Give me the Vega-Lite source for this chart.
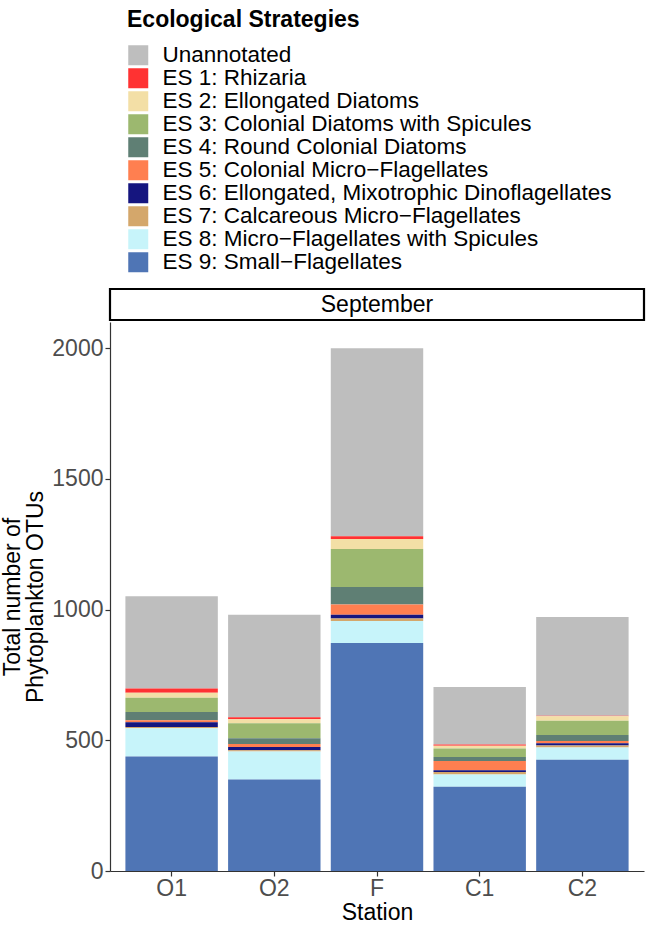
{
  "$schema": "https://vega.github.io/schema/vega-lite/v6.json",
  "padding": {"left": 1, "top": 9, "right": 0, "bottom": 2},
  "background": "white",
  "spacing": 0,
  "data": {"values": [
    {"station": "O1", "strategy": "Unannotated", "k": 0, "count": 353},
    {"station": "O1", "strategy": "ES 1: Rhizaria", "k": 1, "count": 16},
    {"station": "O1", "strategy": "ES 2: Ellongated Diatoms", "k": 2, "count": 19},
    {"station": "O1", "strategy": "ES 3: Colonial Diatoms with Spicules", "k": 3, "count": 55},
    {"station": "O1", "strategy": "ES 4: Round Colonial Diatoms", "k": 4, "count": 31},
    {"station": "O1", "strategy": "ES 5: Colonial Micro−Flagellates", "k": 5, "count": 8},
    {"station": "O1", "strategy": "ES 6: Ellongated, Mixotrophic Dinoflagellates", "k": 6, "count": 18},
    {"station": "O1", "strategy": "ES 7: Calcareous Micro−Flagellates", "k": 7, "count": 5},
    {"station": "O1", "strategy": "ES 8: Micro−Flagellates with Spicules", "k": 8, "count": 108},
    {"station": "O1", "strategy": "ES 9: Small−Flagellates", "k": 9, "count": 438},
    {"station": "O2", "strategy": "Unannotated", "k": 0, "count": 392},
    {"station": "O2", "strategy": "ES 1: Rhizaria", "k": 1, "count": 8},
    {"station": "O2", "strategy": "ES 2: Ellongated Diatoms", "k": 2, "count": 15},
    {"station": "O2", "strategy": "ES 3: Colonial Diatoms with Spicules", "k": 3, "count": 57},
    {"station": "O2", "strategy": "ES 4: Round Colonial Diatoms", "k": 4, "count": 22},
    {"station": "O2", "strategy": "ES 5: Colonial Micro−Flagellates", "k": 5, "count": 12},
    {"station": "O2", "strategy": "ES 6: Ellongated, Mixotrophic Dinoflagellates", "k": 6, "count": 12},
    {"station": "O2", "strategy": "ES 7: Calcareous Micro−Flagellates", "k": 7, "count": 5},
    {"station": "O2", "strategy": "ES 8: Micro−Flagellates with Spicules", "k": 8, "count": 107},
    {"station": "O2", "strategy": "ES 9: Small−Flagellates", "k": 9, "count": 350},
    {"station": "F", "strategy": "Unannotated", "k": 0, "count": 720},
    {"station": "F", "strategy": "ES 1: Rhizaria", "k": 1, "count": 10},
    {"station": "F", "strategy": "ES 2: Ellongated Diatoms", "k": 2, "count": 38},
    {"station": "F", "strategy": "ES 3: Colonial Diatoms with Spicules", "k": 3, "count": 146},
    {"station": "F", "strategy": "ES 4: Round Colonial Diatoms", "k": 4, "count": 67},
    {"station": "F", "strategy": "ES 5: Colonial Micro−Flagellates", "k": 5, "count": 39},
    {"station": "F", "strategy": "ES 6: Ellongated, Mixotrophic Dinoflagellates", "k": 6, "count": 14},
    {"station": "F", "strategy": "ES 7: Calcareous Micro−Flagellates", "k": 7, "count": 10},
    {"station": "F", "strategy": "ES 8: Micro−Flagellates with Spicules", "k": 8, "count": 84},
    {"station": "F", "strategy": "ES 9: Small−Flagellates", "k": 9, "count": 872},
    {"station": "C1", "strategy": "Unannotated", "k": 0, "count": 220},
    {"station": "C1", "strategy": "ES 1: Rhizaria", "k": 1, "count": 5},
    {"station": "C1", "strategy": "ES 2: Ellongated Diatoms", "k": 2, "count": 10},
    {"station": "C1", "strategy": "ES 3: Colonial Diatoms with Spicules", "k": 3, "count": 33},
    {"station": "C1", "strategy": "ES 4: Round Colonial Diatoms", "k": 4, "count": 15},
    {"station": "C1", "strategy": "ES 5: Colonial Micro−Flagellates", "k": 5, "count": 36},
    {"station": "C1", "strategy": "ES 6: Ellongated, Mixotrophic Dinoflagellates", "k": 6, "count": 6},
    {"station": "C1", "strategy": "ES 7: Calcareous Micro−Flagellates", "k": 7, "count": 10},
    {"station": "C1", "strategy": "ES 8: Micro−Flagellates with Spicules", "k": 8, "count": 47},
    {"station": "C1", "strategy": "ES 9: Small−Flagellates", "k": 9, "count": 322},
    {"station": "C2", "strategy": "Unannotated", "k": 0, "count": 378},
    {"station": "C2", "strategy": "ES 1: Rhizaria", "k": 1, "count": 2},
    {"station": "C2", "strategy": "ES 2: Ellongated Diatoms", "k": 2, "count": 17},
    {"station": "C2", "strategy": "ES 3: Colonial Diatoms with Spicules", "k": 3, "count": 55},
    {"station": "C2", "strategy": "ES 4: Round Colonial Diatoms", "k": 4, "count": 23},
    {"station": "C2", "strategy": "ES 5: Colonial Micro−Flagellates", "k": 5, "count": 8},
    {"station": "C2", "strategy": "ES 6: Ellongated, Mixotrophic Dinoflagellates", "k": 6, "count": 9},
    {"station": "C2", "strategy": "ES 7: Calcareous Micro−Flagellates", "k": 7, "count": 8},
    {"station": "C2", "strategy": "ES 8: Micro−Flagellates with Spicules", "k": 8, "count": 46},
    {"station": "C2", "strategy": "ES 9: Small−Flagellates", "k": 9, "count": 426}
  ]},
  "vconcat": [
    {
      "width": 534,
      "height": 31,
      "data": {"values": [{"month": "September"}]},
      "view": {"stroke": "black", "strokeWidth": 2.2, "fill": "white"},
      "mark": {"type": "text", "fontSize": 23, "font": "Liberation Sans", "color": "black", "baseline": "middle", "align": "center"},
      "encoding": {"text": {"field": "month", "type": "nominal"}}
    },
    {
      "width": 534,
      "height": 549,
      "view": {"stroke": null},
      "mark": {"type": "bar"},
      "encoding": {
        "x": {
          "field": "station", "type": "nominal",
          "sort": ["O1", "O2", "F", "C1", "C2"],
          "scale": {"paddingInner": 0.1, "paddingOuter": 0.15},
          "axis": {"title": "Station", "labelAngle": 0, "labelPadding": 1, "titlePadding": 1}
        },
        "y": {
          "field": "count", "type": "quantitative", "stack": "zero",
          "scale": {"domain": [0, 2100], "nice": false, "zero": true},
          "axis": {"title": ["Total number of", "Phytoplankton OTUs"], "values": [0, 500, 1000, 1500, 2000], "format": "d", "titleLineHeight": 23, "titlePadding": 4, "labelPadding": 2}
        },
        "color": {
          "field": "strategy", "type": "nominal",
          "scale": {
            "domain": ["Unannotated", "ES 1: Rhizaria", "ES 2: Ellongated Diatoms", "ES 3: Colonial Diatoms with Spicules", "ES 4: Round Colonial Diatoms", "ES 5: Colonial Micro−Flagellates", "ES 6: Ellongated, Mixotrophic Dinoflagellates", "ES 7: Calcareous Micro−Flagellates", "ES 8: Micro−Flagellates with Spicules", "ES 9: Small−Flagellates"],
            "range": ["#BEBEBE", "#FF3232", "#F3DFA6", "#9CB86F", "#5F7F74", "#FF7F50", "#15157F", "#D4A76B", "#C7F4FA", "#4F75B5"]
          },
          "legend": {
            "title": "Ecological Strategies",
            "orient": "none",
            "legendX": 17,
            "legendY": -280
          }
        },
        "order": {"field": "k", "type": "quantitative", "sort": "descending"}
      }
    }
  ],
  "config": {
    "font": "Liberation Sans",
    "axis": {
      "grid": false,
      "labelFont": "Liberation Sans",
      "labelFontSize": 23,
      "labelColor": "#4D4D4D",
      "titleFont": "Liberation Sans",
      "titleFontSize": 23,
      "titleFontWeight": "normal",
      "titleColor": "black",
      "domainColor": "#333333",
      "domainWidth": 1.2,
      "tickColor": "#333333",
      "tickWidth": 1.2,
      "tickSize": 5,
      "labelPadding": 3
    },
    "legend": {
      "titleFont": "Liberation Sans",
      "titleFontSize": 23,
      "titleFontWeight": "bold",
      "titleColor": "black",
      "titlePadding": 12,
      "titleLimit": 700,
      "labelFont": "Liberation Sans",
      "labelFontSize": 22.5,
      "labelColor": "black",
      "labelOffset": 13,
      "symbolType": "square",
      "symbolSize": 400,
      "symbolStrokeWidth": 0,
      "symbolOpacity": 1,
      "rowPadding": 0,
      "padding": 0,
      "labelLimit": 700
    }
  }
}
